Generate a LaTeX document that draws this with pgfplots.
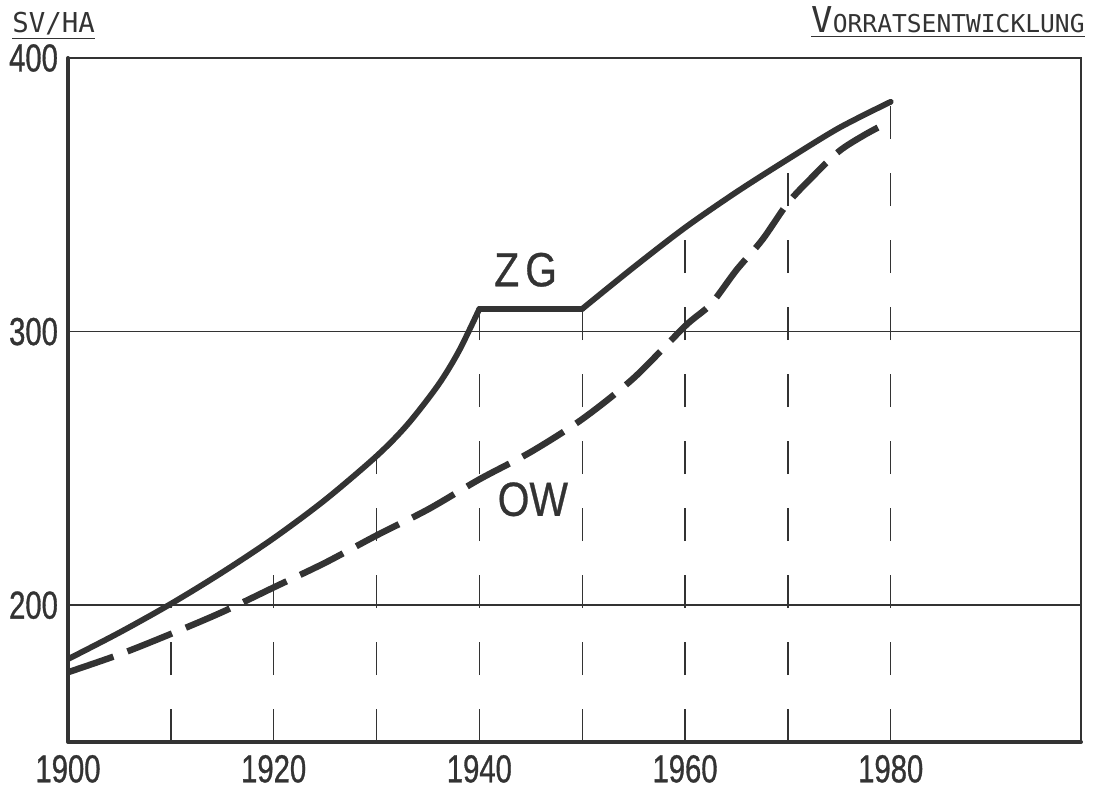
\documentclass[border=0pt]{standalone}
\usepackage{fontspec}
\usepackage{pgfplots}
\pgfplotsset{compat=1.18}
\setmainfont{Liberation Sans}
\newfontfamily\tickf[FakeStretch=0.75,FakeBold=0.8]{Liberation Sans}
\newfontfamily\labf[FakeStretch=0.85,FakeBold=0.6]{Liberation Sans}
\newfontfamily\monof{DejaVu Sans Mono}
\definecolor{ink}{gray}{0.2}
\begin{document}
\begin{tikzpicture}
\begin{axis}[
  name=ax,
  scale only axis, width=506.5pt, height=342pt,
  xmin=1900, xmax=1998.5, ymin=150, ymax=400,
  xtick={1900,1920,1940,1960,1980}, xticklabels={1900,1920,1940,1960,1980},
  ytick={200,300,400}, yticklabels={200,300,400},
  major tick length=0pt,
  ymajorgrids, grid style={ink, line width=0.75pt},
  axis line style={ink, line width=1.2pt},
  tick label style={font=\tickf\fontsize{19.5}{20}\selectfont, text=ink},
  xticklabel style={yshift=-3pt},
  yticklabel style={xshift=-1.5pt},
  unbounded coords=jump,
]
% vertical dashed guide lines from the bottom up to the ZG curve
\addplot[ink, line width=0.7pt, dash pattern=on 16.5pt off 17pt] coordinates {
 (1910,150) (1910,200.5) (1910,nan)
 (1920,150) (1920,224.5) (1920,nan)
 (1930,150) (1930,254.5) (1930,nan)
 (1940,150) (1940,308.3) (1940,nan)
 (1950,150) (1950,308.3) (1950,nan)
 (1960,150) (1960,338) (1960,nan)
 (1970,150) (1970,363) (1970,nan)
 (1980,150) (1980,387)
};
% ZG (solid)
\addplot[ink, line width=2.9pt, smooth, line cap=round] coordinates {
 (1900,180.3) (1905,190) (1910,200.5) (1915,212) (1920,224.5) (1925,238.5)
 (1930,254.5) (1933,266) (1936,280.5) (1938,292.8) (1940,308.3)
};
\addplot[ink, line width=2.9pt, line cap=round] coordinates {
 (1940,308.3) (1950,308.3)
};
\addplot[ink, line width=2.9pt, smooth, line cap=round] coordinates {
 (1950,308.3) (1955,323.5) (1960,338) (1965,351) (1970,363) (1975,374.5) (1980,384)
};
% OW (dashed)
\addplot[ink, line width=3.2pt, smooth, dash pattern=on 24pt off 7.5pt] coordinates {
 (1900,175.5) (1905,182) (1910,189.5) (1915,197.5) (1920,206.5) (1925,215.5)
 (1930,225.5) (1935,235) (1940,246) (1945,256) (1950,268) (1955,283)
 (1960,302) (1962.5,310) (1965,322.5) (1967.5,333.5) (1970,347)
 (1972.5,357) (1975,366) (1977.5,372) (1980,377)
};
\node[text=ink, font=\labf\fontsize{24}{24}\selectfont] at (axis cs:1944.5,322.6) {Z\hspace{3pt}G};
\node[text=ink, font=\labf\fontsize{24}{24}\selectfont] at (axis cs:1945.2,238.7) {OW};
\end{axis}
\draw[ink, line width=2pt, line cap=round, line join=round] (ax.north west) -- (ax.south west) -- (ax.south east);
\node[anchor=base west, inner sep=0pt, text=ink, font=\monof\fontsize{13.7}{14}\selectfont] at (-28pt,354.5pt) {\underline{SV/HA}};
\node[anchor=base east, inner sep=0pt, text=ink, font=\monof\fontsize{12.3}{14}\selectfont] at (508.5pt,354.5pt) {\underline{{\fontsize{17.8}{18}\selectfont V}ORRATSENTWICKLUNG}};
\pgfresetboundingbox
\path[use as bounding box] (-34pt,-26pt) rectangle (513.5pt,371pt);
\end{tikzpicture}
\end{document}
